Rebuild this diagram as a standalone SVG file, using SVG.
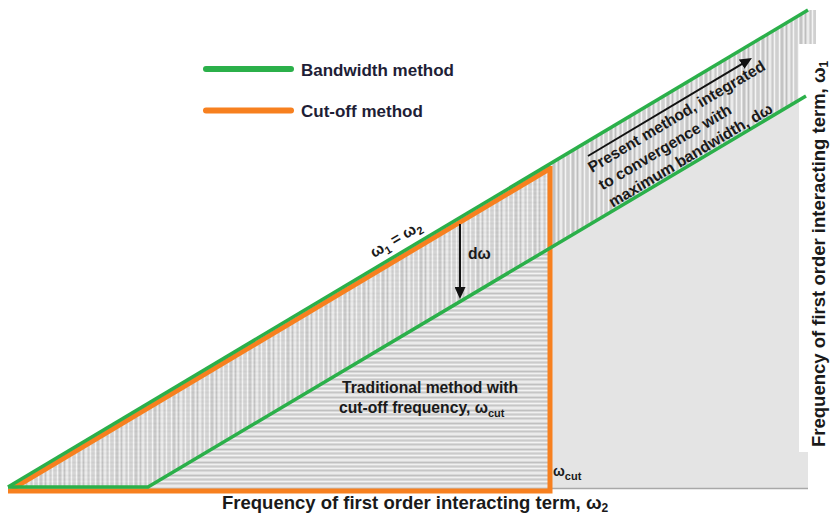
<svg xmlns="http://www.w3.org/2000/svg" width="830" height="515" viewBox="0 0 830 515">
<defs>
<style>
text{font-family:"Liberation Sans",Arial,sans-serif;fill:#1a1a1a;font-weight:bold}
.lg{font-size:17px;fill:#1e1e36}
.ax{font-size:18.5px}
.in{font-size:15.7px}
.sub{font-size:11px}
.g{stroke:#2bb04a;fill:none;stroke-width:3.5;stroke-linejoin:round}
.o{stroke:#f7801f;fill:none;stroke-width:5}
.arr{stroke:#111;stroke-width:2;fill:none;marker-end:url(#ah)}
</style>
<marker id="ah" markerUnits="userSpaceOnUse" markerWidth="12" markerHeight="11" refX="4" refY="5.5" orient="auto"><path d="M0,0 L12,5.5 L0,11 z" fill="#111"/></marker>
<pattern id="vs" width="19" height="4" patternUnits="userSpaceOnUse">
<rect width="19" height="4" fill="#d8d8d8"/>
<rect x="0" width="1" height="4" fill="#f6f6f6"/>
<rect x="2" width="2" height="4" fill="#c4c4c4"/>
<rect x="5" width="1" height="4" fill="#eeeeee"/>
<rect x="7" width="1" height="4" fill="#bebebe"/>
<rect x="9" width="2" height="4" fill="#ebebeb"/>
<rect x="12" width="1" height="4" fill="#cacaca"/>
<rect x="14" width="1" height="4" fill="#f4f4f4"/>
<rect x="16" width="2" height="4" fill="#d0d0d0"/>
</pattern>
<pattern id="hs" width="4" height="13" patternUnits="userSpaceOnUse">
<rect width="4" height="13" fill="#d9d9d9"/>
<rect y="0" width="4" height="1" fill="#f3f3f3"/>
<rect y="2" width="4" height="1" fill="#c6c6c6"/>
<rect y="4" width="4" height="2" fill="#ebebeb"/>
<rect y="7" width="4" height="1" fill="#c0c0c0"/>
<rect y="9" width="4" height="1" fill="#f0f0f0"/>
<rect y="11" width="4" height="1" fill="#cbcbcb"/>
</pattern>
</defs>
<rect width="830" height="515" fill="#fff"/>
<g id="regions">
<polygon points="8,487 550,164 550,248 148,487" fill="url(#vs)"/>
<polygon points="8,487 550,164 550,248 148,487" fill="url(#hs)" opacity="0.18"/>
<polygon points="148,487 550,248 550,491 10,491 10,487" fill="url(#hs)"/>
<polygon points="550,164 808,10 816,10 816,90 550,248" fill="url(#vs)"/>
<polygon points="550,248 808,95 808,488 550,488" fill="#e4e4e4"/>
<line x1="550" y1="488.5" x2="808" y2="488.5" stroke="#a8a8a8" stroke-width="1.5"/>
<rect x="799" y="44" width="31" height="408" fill="#fff"/>
</g>
<g id="connectors">
<path class="o" d="M12,489 L550,168.5"/>
<path class="o" d="M550,166 L550,491 L8,491"/>
<path class="g" d="M8,487 L808,10"/>
<path class="g" d="M8,487 L148,487 L806,96"/>
<line class="arr" x1="460" y1="224" x2="460" y2="291"/>
<line class="arr" x1="588" y1="156" x2="745.1" y2="62.1"/>
</g>
<g id="legend">
<line x1="206" y1="69" x2="291" y2="69" stroke="#2bb04a" stroke-width="6" stroke-linecap="round"/>
<text class="lg" x="301" y="76">Bandwidth method</text>
<line x1="206" y1="110.5" x2="291" y2="110.5" stroke="#f7801f" stroke-width="6" stroke-linecap="round"/>
<text class="lg" x="301" y="117">Cut-off method</text>
</g>
<g id="label-diagonal">
<text class="in" font-size="16.5" transform="translate(374,258) rotate(-30.8)">ω<tspan class="sub" dy="4">1</tspan><tspan dy="-4"> = ω</tspan><tspan class="sub" dy="4">2</tspan></text>
</g>
<g id="label-domega">
<text class="in" x="468" y="259">dω</text>
</g>
<g id="label-present">
<text class="in" transform="translate(592,173) rotate(-30.8)"><tspan x="0" y="0">Present method, integrated</tspan><tspan x="0" y="20.5">to convergence with</tspan><tspan x="0" y="40.5">maximum bandwidth, dω</tspan></text>
</g>
<g id="label-traditional">
<text class="in" x="342" y="393">Traditional method with</text>
<text class="in" x="339" y="413">cut-off frequency, ω<tspan class="sub" dy="4">cut</tspan></text>
</g>
<g id="label-wcut">
<text x="553" y="476" font-size="14" font-weight="normal">ω<tspan class="sub" font-weight="bold" dy="4">cut</tspan></text>
</g>
<g id="axis-x">
<text class="ax" x="222" y="509">Frequency of first order interacting term, ω<tspan font-size="12" dy="3">2</tspan></text>
</g>
<g id="axis-y">
<text class="ax" transform="translate(825,447) rotate(-90)">Frequency of first order interacting term, ω<tspan font-size="12" dy="3">1</tspan></text>
</g>
</svg>
